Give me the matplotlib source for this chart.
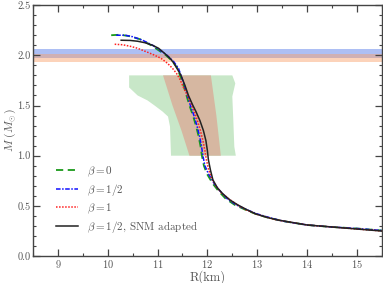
import matplotlib
matplotlib.use("Agg")
import matplotlib.pyplot as plt
from matplotlib.ticker import MultipleLocator, FormatStrFormatter

plt.rcParams['font.family'] = ['cmr10', 'DejaVu Serif']
plt.rcParams['mathtext.fontset'] = 'cm'
plt.rcParams['axes.formatter.use_mathtext'] = True

# beta = 0
R_b0 = [10.07, 10.25, 10.44, 10.65, 10.87, 11.02, 11.17, 11.30, 11.40, 11.45, 11.52, 11.58, 11.64, 11.71,
        11.77, 11.82, 11.86, 11.89, 11.93, 11.99, 12.11, 12.22, 12.37, 12.55, 12.77, 12.97, 13.17, 13.50,
        14.0, 14.5, 15.0, 15.5]
M_b0 = [2.20, 2.205, 2.19, 2.16, 2.10, 2.05, 2.00, 1.94, 1.87, 1.80, 1.70, 1.60, 1.50, 1.40,
        1.30, 1.20, 1.10, 1.00, 0.90, 0.82, 0.72, 0.65, 0.57, 0.51, 0.46, 0.42, 0.39, 0.35,
        0.31, 0.29, 0.275, 0.255]
# beta = 1/2
R_b12 = [10.17, 10.35, 10.50, 10.70, 10.90, 11.05, 11.19, 11.32, 11.42, 11.47, 11.54, 11.60, 11.66, 11.73,
         11.79, 11.84, 11.88, 11.91, 11.95, 12.02, 12.14, 12.25, 12.40, 12.58, 12.80, 13.00, 13.20, 13.50,
         14.0, 14.5, 15.0, 15.5]
M_b12 = [2.20, 2.20, 2.185, 2.15, 2.10, 2.05, 2.00, 1.94, 1.87, 1.80, 1.70, 1.60, 1.50, 1.40,
         1.30, 1.20, 1.10, 1.00, 0.90, 0.82, 0.72, 0.65, 0.57, 0.51, 0.46, 0.42, 0.39, 0.35,
         0.31, 0.29, 0.275, 0.255]
# beta = 1
R_b1 = [10.14, 10.30, 10.45, 10.60, 10.70, 10.90, 11.07, 11.20, 11.30, 11.38, 11.44, 11.52, 11.60, 11.67,
        11.74, 11.80, 11.86, 11.91, 11.95, 11.98, 12.02, 12.08, 12.17, 12.28, 12.43, 12.60, 12.78, 12.97,
        13.20, 13.40, 13.70, 14.0, 14.5, 15.0, 15.5]
M_b1 = [2.11, 2.105, 2.09, 2.07, 2.05, 2.01, 1.97, 1.92, 1.87, 1.82, 1.77, 1.68, 1.60, 1.52,
        1.44, 1.35, 1.25, 1.15, 1.05, 0.96, 0.87, 0.78, 0.70, 0.63, 0.57, 0.51, 0.46, 0.42,
        0.385, 0.36, 0.335, 0.31, 0.29, 0.27, 0.25]
# beta = 1/2, SNM adapted
R_snm = [10.27, 10.45, 10.60, 10.75, 10.90, 11.02, 11.14, 11.25, 11.33, 11.40, 11.47, 11.55, 11.62, 11.70,
         11.77, 11.85, 11.92, 11.97, 12.00, 12.02, 12.06, 12.11, 12.20, 12.31, 12.45, 12.61, 12.80, 12.97,
         13.20, 13.41, 13.70, 14.0, 14.5, 15.0, 15.5]
M_snm = [2.15, 2.148, 2.14, 2.125, 2.10, 2.07, 2.02, 1.97, 1.92, 1.86, 1.80, 1.70, 1.60, 1.51,
         1.44, 1.35, 1.25, 1.15, 1.05, 0.96, 0.86, 0.76, 0.68, 0.62, 0.56, 0.51, 0.46, 0.42,
         0.385, 0.36, 0.335, 0.31, 0.29, 0.27, 0.25]

# constraint regions
R_green = [10.43, 10.43, 10.60, 10.80, 10.94, 11.10, 11.21, 11.25, 11.27, 12.57, 12.54, 12.52, 12.50, 12.56, 12.50]
M_green = [1.80, 1.68, 1.60, 1.55, 1.50, 1.44, 1.39, 1.29, 1.00, 1.00, 1.09, 1.35, 1.59, 1.72, 1.80]
R_brown = [11.11, 11.30, 11.48, 11.64, 12.27, 12.18, 12.07]
M_brown = [1.80, 1.50, 1.25, 1.00, 1.00, 1.40, 1.80]
band_blue = (1.97, 2.06)
band_orange = (1.93, 2.01)

labels = [r'$\beta=0$', r'$\beta=1/2$', r'$\beta=1$', r'$\beta=1/2$, SNM adapted']

fig = plt.figure(figsize=(3.83, 2.83), dpi=100)
ax = fig.add_axes([0.086, 0.095, 0.911, 0.887])

ax.axhspan(*band_blue, color=(0.42, 0.55, 0.92), alpha=0.55, lw=0)
ax.axhspan(*band_orange, color=(0.98, 0.62, 0.40), alpha=0.45, lw=0)
ax.fill(R_green, M_green, color='#c8e7c8', lw=0)
ax.fill(R_brown, M_brown, color='#d6b7a1', lw=0)

ax.plot(R_b0, M_b0, color='#1a9a1a', ls=(0, (4, 2.5)), lw=1.3, label=labels[0])
ax.plot(R_b12, M_b12, color='#1010ff', ls=(0, (3, 1, 1, 1)), lw=1.1, label=labels[1])
ax.plot(R_b1, M_b1, color='#ff2020', ls=(0, (1, 1)), lw=1.1, label=labels[2])
ax.plot(R_snm, M_snm, color='#222222', ls='-', lw=1.1, label=labels[3])

ax.set_xlim(8.5, 15.5)
ax.set_ylim(0.0, 2.5)
ax.xaxis.set_major_locator(MultipleLocator(1))
ax.xaxis.set_minor_locator(MultipleLocator(0.5))
ax.yaxis.set_major_locator(MultipleLocator(0.5))
ax.yaxis.set_minor_locator(MultipleLocator(0.1))
ax.yaxis.set_major_formatter(FormatStrFormatter('%.1f'))
ax.tick_params(which='both', direction='in', top=True, right=True, colors='#444444',
               labelcolor='#555555', labelsize=7.5, pad=1.5)
ax.tick_params(which='major', length=5, width=0.9)
ax.tick_params(which='minor', length=2.5, width=0.8)
for s in ax.spines.values():
    s.set_color('#444444')
    s.set_linewidth(1.0)

ax.set_xlabel('R(km)', fontsize=9, color='#555555', labelpad=0)
ax.set_ylabel(r'$M\ (M_{\odot})$', fontsize=8.5, color='#555555', labelpad=0)

leg = ax.legend(loc='upper left', bbox_to_anchor=(0.065, 0.365), frameon=False, fontsize=8,
                handlelength=2.0, handletextpad=0.8, labelspacing=0.3, borderpad=0, borderaxespad=0)
for t in leg.get_texts():
    t.set_color('#555555')

fig.savefig('out.png', dpi=100)
